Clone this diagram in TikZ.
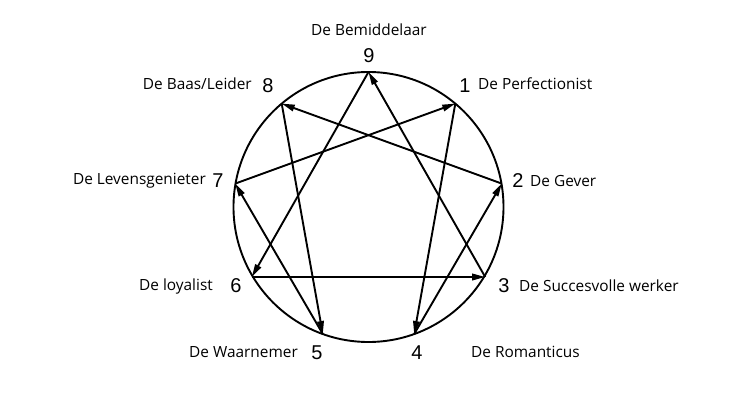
\documentclass[tikz,border=0pt]{standalone}
\usepackage{fontspec}
\setmainfont{Open Sans}
\newfontfamily\numfont{Liberation Sans}
\usetikzlibrary{arrows.meta}
\begin{document}
\begin{tikzpicture}[x=1pt,y=-1pt,
  edge/.style={line width=1.9pt,-{Triangle[length=13pt,width=6.5pt]}},
  num/.style={font=\numfont\fontsize{20}{20}\selectfont,inner sep=0pt},
  lab/.style={font=\fontsize{15.4}{17}\selectfont,inner sep=0pt}]
\useasboundingbox (0,0) rectangle (740,416);
\fill[white] (0,0) rectangle (740,416);
\node[draw,circle,line width=1.9pt,minimum size=270pt,inner sep=0pt] (c) at (368.5,207) {};
\coordinate (p9) at (368.5,72);
\coordinate (p1) at (455.3,103.6);
\coordinate (p8) at (281.7,103.6);
\coordinate (p2) at (501.8,183.6);
\coordinate (p7) at (235.2,183.6);
\coordinate (p3) at (485.2,277);
\coordinate (p6) at (251.8,277);
\coordinate (p4) at (414.2,334);
\coordinate (p5) at (322.8,334);
\draw[edge] (p1) -- (p4);
\draw[edge] (p4) -- (p2);
\draw[edge] (p2) -- (p8);
\draw[edge] (p8) -- (p5);
\draw[edge] (p5) -- (p7);
\draw[edge] (p7) -- (p1);
\draw[edge] (p3) -- (p9);
\draw[edge] (p9) -- (p6);
\draw[edge] (p6) -- (p3);
\node[num] (n9) at (369,56) {9};
\node[num] (n1) at (465,86) {1};
\node[num] (n8) at (268,86) {8};
\node[num] (n2) at (518,181) {2};
\node[num] (n7) at (218,181) {7};
\node[num] (n3) at (504,286) {3};
\node[num] (n6) at (236,286) {6};
\node[num] (n5) at (317,353) {5};
\node[num] (n4) at (417,353) {4};
\node[lab] (l9) at (369,30) {De Bemiddelaar};
\node[lab,anchor=east] (l8) at (252,84) {De Baas/Leider};
\node[lab,anchor=west] (l1) at (478,84) {De Perfectionist};
\node[lab,anchor=west] (l2) at (530,181) {De Gever};
\node[lab,anchor=east] (l7) at (206,181) {De Levensgenieter};
\node[lab,anchor=west] (l3) at (519,286) {De Succesvolle werker};
\node[lab,anchor=east] (l6) at (213,286) {De loyalist};
\node[lab,anchor=east] (l5) at (298,352) {De Waarnemer};
\node[lab,anchor=west] (l4) at (471,352) {De Romanticus};
\end{tikzpicture}
\end{document}
